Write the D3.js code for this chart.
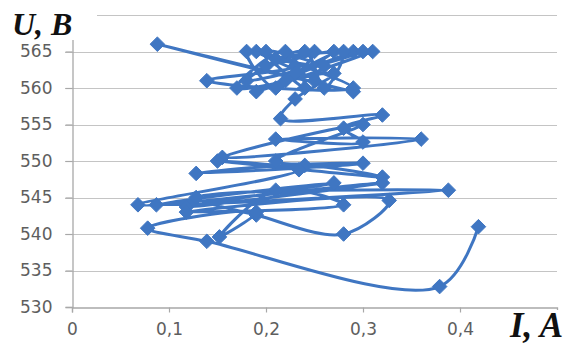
<!DOCTYPE html>
<html>
<head>
<meta charset="utf-8">
<script src="https://cdn.jsdelivr.net/npm/d3@7"></script>
<style>
  html, body { margin: 0; padding: 0; background: #ffffff; }
  svg { display: block; }
</style>
</head>
<body>
<svg id="chart" width="570" height="356"></svg>
<script>
// ---- data ----
const currentA = [
  0.29, 0.088, 0.25, 0.19, 0.29, 0.139, 0.23, 0.18, 0.21, 0.25, 0.20,
  0.27, 0.22, 0.31, 0.19, 0.29, 0.23, 0.28, 0.26, 0.24, 0.18,
  0.30, 0.21, 0.26, 0.20, 0.24, 0.22, 0.17, 0.27, 0.23, 0.215,
  0.32, 0.28, 0.30, 0.21, 0.36, 0.155, 0.30, 0.21, 0.30, 0.128,
  0.24, 0.32, 0.15, 0.234, 0.068, 0.32, 0.118, 0.27, 0.087, 0.388,
  0.128, 0.19, 0.28, 0.327, 0.118, 0.28, 0.21, 0.152, 0.19, 0.078,
  0.139, 0.379, 0.419
];
const voltageV = [
  559.5, 566, 561, 565, 560, 561, 563, 565, 560, 565, 563,
  565, 561, 565, 559.5, 565, 562, 565, 560, 565, 561,
  565, 564, 563, 565, 560, 565, 560, 562, 558.5, 555.8,
  556.3, 554.5, 552.6, 553, 553, 550.5, 555, 550, 549.7, 548.3,
  549.4, 547.8, 550, 548.8, 544, 547, 543.7, 547, 544, 546,
  545, 542.6, 540, 544.6, 543, 544, 546, 539.6, 543, 540.8,
  539, 532.8, 541
];
const xTickValues = [0, 0.1, 0.2, 0.3, 0.4];
const xTickLabels = ["0", "0,1", "0,2", "0,3", "0,4"];
const yTickValues = [530, 535, 540, 545, 550, 555, 560, 565, 570];
const yTickLabels = ["530", "535", "540", "545", "550", "555", "560", "565", ""];
const xTitle = "I, A";
const yTitle = "U, B";

(function () {
  const svg = d3.select("#chart");
  const pL = 72, pR = 557, pT = 15, pB = 307;
  const x = d3.scaleLinear().domain([0, 0.5]).range([pL, pR]);
  const y = d3.scaleLinear().domain([530, 570]).range([pB, pT]);
  const blue = "#3f76c2";
  const gridColor = "#c4c4c4";
  const axisColor = "#a8a8a8";
  const labelColor = "#5e5e5e";

  // gridlines (with small tick stubs left of axis)
  svg.append("g").selectAll("line").data(yTickValues.filter(v => v > 530)).join("line")
    .attr("x1", pL - 7).attr("x2", pR)
    .attr("y1", d => Math.round(y(d)) + 0.5).attr("y2", d => Math.round(y(d)) + 0.5)
    .attr("stroke", gridColor).attr("stroke-width", 1.2);

  // y axis
  const yAxis = d3.axisLeft(y).tickValues(yTickValues).tickSize(7)
    .tickFormat((d, i) => yTickLabels[i]);
  const gy = svg.append("g").attr("transform", `translate(${pL + 0.5},0)`).call(yAxis);
  gy.select(".domain").attr("stroke", axisColor).attr("stroke-width", 1.3);
  gy.selectAll(".tick line").attr("stroke", axisColor).attr("stroke-width", 1.2);
  gy.selectAll(".tick text").attr("x", -20)
    .attr("fill", labelColor).attr("font-family", "DejaVu Sans").attr("font-size", 17);

  // x axis
  const xAxis = d3.axisBottom(x).tickValues(xTickValues).tickSize(5)
    .tickFormat((d, i) => xTickLabels[i]);
  const gx = svg.append("g").attr("transform", `translate(0,${pB + 0.5})`).call(xAxis);
  gx.select(".domain").attr("stroke", axisColor).attr("stroke-width", 1.3);
  gx.selectAll(".tick line").attr("stroke", axisColor).attr("stroke-width", 1.2);
  gx.selectAll(".tick text").attr("y", 15)
    .attr("fill", labelColor).attr("font-family", "DejaVu Sans").attr("font-size", 17);

  // series line
  const pts = currentA.map((v, i) => [v, voltageV[i]]);
  const line = d3.line().x(d => x(d[0])).y(d => y(d[1])).curve(d3.curveCatmullRom.alpha(0.5));
  svg.append("path").datum(pts)
    .attr("d", line)
    .attr("fill", "none").attr("stroke", blue).attr("stroke-width", 3)
    .attr("stroke-linejoin", "round");

  // diamond markers
  const r = 7.3;
  svg.append("g").selectAll("path").data(pts).join("path")
    .attr("transform", d => `translate(${x(d[0])},${y(d[1])})`)
    .attr("d", `M0,${-r}L${r},0L0,${r}L${-r},0Z`)
    .attr("fill", blue).attr("stroke", blue).attr("stroke-width", 1);

  // axis titles (boxes with white fill)
  svg.append("rect").attr("x", 0).attr("y", 0).attr("width", 97).attr("height", 40).attr("fill", "#fff");
  svg.append("text").attr("x", 12).attr("y", 35).text(yTitle)
    .attr("font-family", "Liberation Serif").attr("font-weight", "bold").attr("font-style", "italic")
    .attr("font-size", 32).attr("fill", "#111");

  svg.append("rect").attr("x", 490).attr("y", 310).attr("width", 80).attr("height", 46).attr("fill", "#fff");
  svg.append("text").attr("x", 510).attr("y", 337).text(xTitle)
    .attr("font-family", "Liberation Serif").attr("font-weight", "bold").attr("font-style", "italic")
    .attr("font-size", 35).attr("fill", "#111");
})();
</script>
</body>
</html>
